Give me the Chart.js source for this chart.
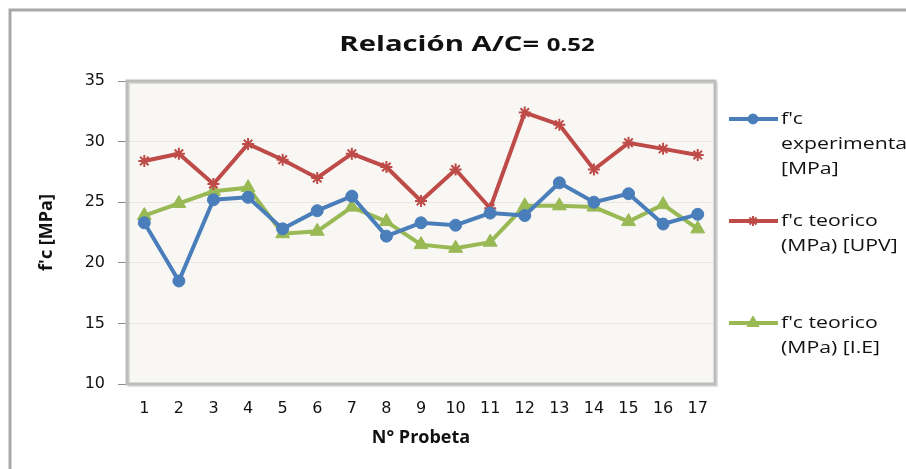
<!DOCTYPE html>
<html>
<head>
<meta charset="utf-8">
<script src="https://cdn.jsdelivr.net/npm/chart.js@4"></script>
<style>
  html, body { margin: 0; padding: 0; background: #fff; }
  #wrap { width: 906px; height: 469px; }
</style>
</head>
<body>
<div id="wrap"><canvas id="chart" width="906" height="469"></canvas></div>
<script>
// Data
const probetas = ['1','2','3','4','5','6','7','8','9','10','11','12','13','14','15','16','17'];
const fcExperimental = [23.3, 18.5, 25.2, 25.4, 22.8, 24.3, 25.5, 22.2, 23.3, 23.1, 24.1, 23.9, 26.6, 25.0, 25.7, 23.2, 24.0];
const fcUPV = [28.4, 29.0, 26.5, 29.8, 28.5, 27.0, 29.0, 27.9, 25.1, 27.7, 24.5, 32.4, 31.4, 27.7, 29.9, 29.4, 28.9];
const fcIE = [23.9, 24.9, 25.9, 26.2, 22.4, 22.6, 24.6, 23.4, 21.5, 21.2, 21.7, 24.7, 24.7, 24.6, 23.4, 24.8, 22.8];
const yTicks = [10, 15, 20, 25, 30, 35];

const legendLines = [
    ["f'c", 'experimental', '[MPa]'],
    ["f'c teorico", '(MPa) [UPV]'],
    ["f'c teorico", '(MPa) [I.E]']
];

// draw text stretched a bit wider (the original font is wider than Open Sans)
function wideText(ctx, text, x, y, sx) {
    ctx.save();
    ctx.translate(x, y);
    ctx.scale(sx, 1);
    ctx.fillText(text, 0, 0);
    ctx.restore();
}

// Frame, title, plot background and legend
const decor = {
    id: 'decor',
    beforeDraw(chart) {
        const ctx = chart.ctx;
        const a = chart.chartArea;
        ctx.save();
        ctx.fillStyle = '#fff';
        ctx.fillRect(0, 0, chart.width, chart.height);
        // outer border
        ctx.strokeStyle = '#a9a9a9';
        ctx.lineWidth = 3;
        ctx.beginPath();
        ctx.moveTo(10, chart.height);
        ctx.lineTo(10, 10);
        ctx.lineTo(chart.width, 10);
        ctx.stroke();
        // plot background
        ctx.fillStyle = '#f8f7f3';
        ctx.fillRect(a.left, a.top, a.right - a.left, a.bottom - a.top);
        // title
        ctx.fillStyle = '#111';
        ctx.textBaseline = 'alphabetic';
        const sx = 1.33;
        const t1 = 'Relación A/C= ';
        const t2 = '0.52';
        ctx.font = 'bold 22px "Open Sans"';
        const w1 = ctx.measureText(t1).width * sx;
        ctx.font = 'bold 18px "Open Sans"';
        const w2 = ctx.measureText(t2).width * sx;
        const x0 = 467 - (w1 + w2) / 2;
        ctx.font = 'bold 22px "Open Sans"';
        wideText(ctx, t1, x0, 51, sx);
        ctx.font = 'bold 18px "Open Sans"';
        wideText(ctx, t2, x0 + w1, 51, sx);
        ctx.restore();
    },
    beforeDatasetsDraw(chart) {
        const ctx = chart.ctx;
        const a = chart.chartArea;
        ctx.save();
        ctx.strokeStyle = 'rgba(0,0,0,0.12)';
        ctx.lineWidth = 2;
        ctx.strokeRect(a.left + 2, a.top + 2, a.right - a.left, a.bottom - a.top);
        ctx.strokeStyle = '#bcbcbc';
        ctx.lineWidth = 3;
        ctx.strokeRect(a.left, a.top, a.right - a.left, a.bottom - a.top);
        ctx.restore();
    },
    afterDraw(chart) {
        const ctx = chart.ctx;
        const ys = [119, 221, 323];
        ctx.save();
        chart.data.datasets.forEach((ds, i) => {
            const y = ys[i];
            ctx.strokeStyle = ds.borderColor;
            ctx.lineWidth = ds.borderWidth;
            ctx.beginPath();
            ctx.moveTo(729, y);
            ctx.lineTo(778, y);
            ctx.stroke();
            ctx.fillStyle = ds.pointBackgroundColor;
            ctx.strokeStyle = ds.pointBorderColor;
            ctx.lineWidth = ds.pointBorderWidth;
            Chart.helpers.drawPoint(ctx, {
                pointStyle: ds.pointStyle,
                radius: ds.pointRadius - 1,
                borderWidth: ds.pointBorderWidth
            }, 753, y);
            ctx.fillStyle = '#111';
            ctx.font = '17px "Open Sans"';
            ctx.textBaseline = 'middle';
            legendLines[i].forEach((line, j) => {
                wideText(ctx, line, 781, y + j * 25, 1.25);
            });
        });
        ctx.restore();
    }
};

const ctx = document.getElementById('chart').getContext('2d');
const chart = new Chart(ctx, {
    type: 'line',
    data: {
        labels: probetas,
        datasets: [{
            label: "f'c experimental [MPa]",
            data: fcExperimental,
            borderColor: '#4a7ebb',
            backgroundColor: '#4a7ebb',
            pointBackgroundColor: '#4a7ebb',
            pointBorderColor: '#4a7ebb',
            pointBorderWidth: 1,
            borderWidth: 4,
            pointStyle: 'circle',
            pointRadius: 6
        }, {
            label: "f'c teorico (MPa) [UPV]",
            data: fcUPV,
            borderColor: '#be4b48',
            backgroundColor: '#be4b48',
            pointBackgroundColor: '#be4b48',
            pointBorderColor: '#be4b48',
            pointBorderWidth: 2,
            borderWidth: 4,
            pointStyle: 'star',
            pointRadius: 6
        }, {
            label: "f'c teorico (MPa) [I.E]",
            data: fcIE,
            borderColor: '#98b954',
            backgroundColor: '#98b954',
            pointBackgroundColor: '#98b954',
            pointBorderColor: '#98b954',
            pointBorderWidth: 1,
            borderWidth: 4,
            pointStyle: 'triangle',
            pointRadius: 8
        }]
    },
    options: {
        responsive: false,
        animation: false,
        devicePixelRatio: 1,
        layout: { padding: { left: 0, right: 191, top: 81, bottom: 0 } },
        plugins: {
            legend: { display: false },
            title: { display: false },
            tooltip: { enabled: false }
        },
        elements: { line: { tension: 0 } },
        scales: {
            x: {
                offset: true,
                grid: { display: false, drawTicks: false },
                border: { display: false },
                ticks: {
                    color: '#111',
                    padding: 15,
                    maxRotation: 0,
                    autoSkip: false,
                    font: { family: 'DejaVu Sans', size: 16 }
                },
                title: {
                    display: true,
                    text: 'N° Probeta',
                    color: '#111',
                    font: { family: 'Open Sans', size: 18, weight: 'bold' },
                    padding: { top: 0, bottom: 20 }
                },
                afterFit(scale) { scale.height = 85; }
            },
            y: {
                min: 10,
                max: 35,
                afterBuildTicks(scale) { scale.ticks = yTicks.map(v => ({ value: v })); },
                grid: {
                    color: '#e8e7e4',
                    tickColor: '#8c8c8c',
                    tickLength: 9,
                    lineWidth: 1
                },
                border: { display: false },
                ticks: {
                    color: '#111',
                    padding: 13,
                    font: { family: 'DejaVu Sans', size: 16 }
                },
                title: {
                    display: true,
                    text: "f'c [MPa]",
                    color: '#111',
                    font: { family: 'Open Sans', size: 18, weight: 'bold' },
                    padding: { top: 36, bottom: 0 }
                },
                afterFit(scale) { scale.width = 127; }
            }
        }
    },
    plugins: [decor]
});
</script>
</body>
</html>
